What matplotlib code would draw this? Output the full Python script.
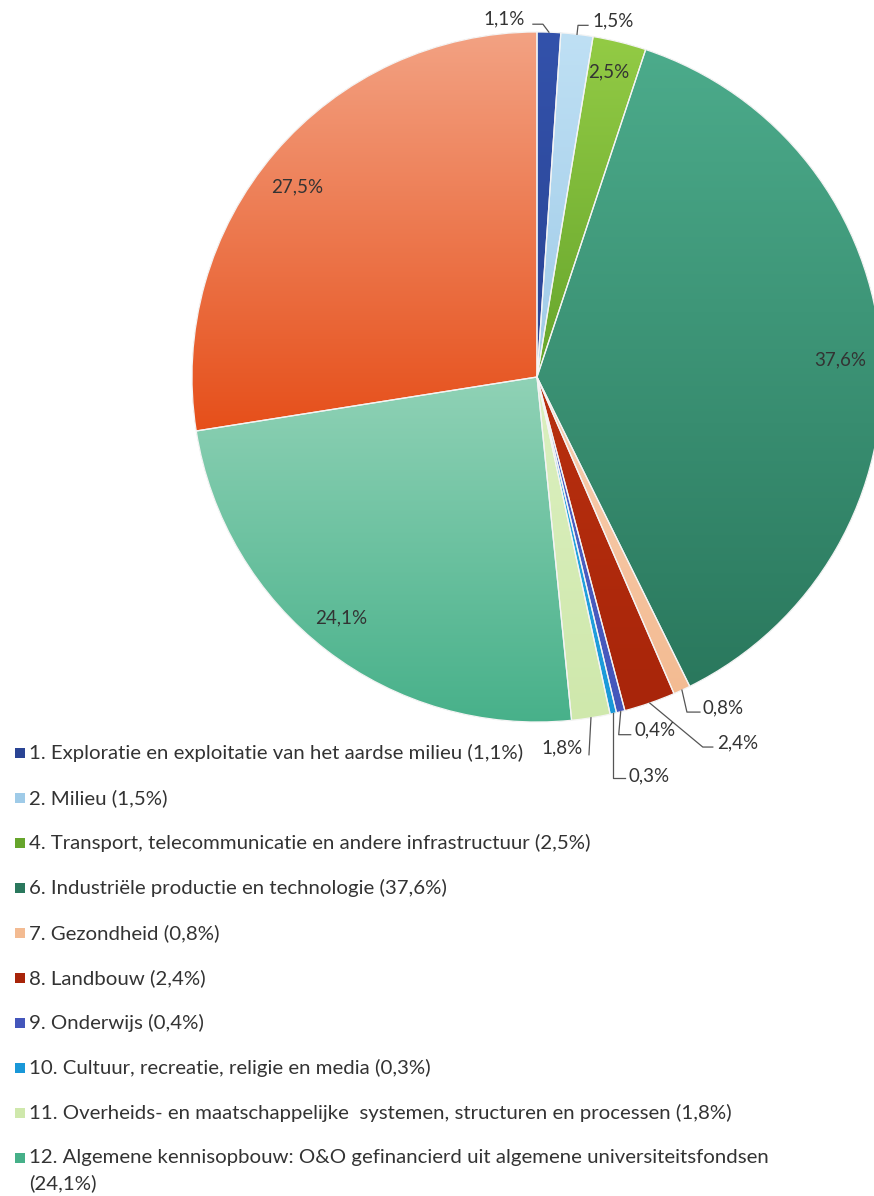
import numpy as np
import matplotlib
matplotlib.use("Agg")
import matplotlib.pyplot as plt
from matplotlib.patches import Wedge, Rectangle
from matplotlib.colors import LinearSegmentedColormap

# ---------------- data ----------------
categories = [
    "1. Exploratie en exploitatie van het aardse milieu",
    "2. Milieu",
    "4. Transport, telecommunicatie en andere infrastructuur",
    "6. Industriële productie en technologie",
    "7. Gezondheid",
    "8. Landbouw",
    "9. Onderwijs",
    "10. Cultuur, recreatie, religie en media",
    "11. Overheids- en maatschappelijke  systemen, structuren en processen",
    "12. Algemene kennisopbouw: O&O gefinancierd uit algemene universiteitsfondsen",
]
shares = [1.1, 1.5, 2.5, 37.6, 0.8, 2.4, 0.4, 0.3, 1.8, 24.1, 27.5]
legend_count = 10  # the last slice (27,5%) has no legend entry

# gradient colours (top, bottom) per slice
colors_top = ["#3352ab", "#bfe0f4", "#93cb45", "#4cab8b", "#f9cfb0", "#b8300f",
              "#5064c8", "#2fb0e6", "#dcf0c0", "#90d2b6", "#f3a283"]
colors_bot = ["#2a4494", "#9fcbe8", "#66a52c", "#2a785d", "#f3bb92", "#a8250a",
              "#4456bb", "#1a98d8", "#cfe8ac", "#46b089", "#e64f1a"]

W, H = 874, 1196
fig = plt.figure(figsize=(W / 100, H / 100), dpi=100)
ax = fig.add_axes([0, 0, 1, 1])

cx, cy, R = 537, H - 377, 345

wedges, _ = ax.pie(shares, startangle=90, counterclock=False, center=(cx, cy),
                   radius=R, colors=colors_bot, frame=True,
                   wedgeprops=dict(linewidth=0))

# vertical gradient inside each slice
for w, ct, cb in zip(wedges, colors_top, colors_bot):
    verts = w.get_path().vertices
    x0, y0 = verts.min(axis=0)
    x1, y1 = verts.max(axis=0)
    cmap = LinearSegmentedColormap.from_list("g", [cb, ct])
    grad = np.linspace(0, 1, 256).reshape(-1, 1)
    im = ax.imshow(grad, extent=(x0, x1, y0, y1), origin="lower", cmap=cmap,
                   aspect="auto", zorder=w.get_zorder() + 0.1, interpolation="bilinear")
    im.set_clip_path(w)
# light separators
for w in wedges:
    ax.add_patch(Wedge((cx, cy), R, w.theta1, w.theta2, fill=False,
                       edgecolor="#f4f4f4", linewidth=0.9, zorder=3))

ax.set_xlim(0, W)
ax.set_ylim(0, H)
ax.set_aspect("equal")
ax.axis("off")

FONT = "Lato"
TXT = "#333333"
PCT_SIZE = 13.5
LEG_SIZE = 14.7

def fmt(v):
    return f"{v:.1f}".replace(".", ",") + "%"

def point_on(frac_pos, dist):
    ang = np.deg2rad(90 - frac_pos * 3.6)
    return cx + dist * np.cos(ang), cy + dist * np.sin(ang)

cum = np.cumsum([0] + shares)
mids = (cum[:-1] + cum[1:]) / 2

# inside labels: (radial fraction, angular shift in percent units)
inside = {2: (0.908, -0.15), 3: (0.88, 0.2), 9: (0.899, 0.4), 10: (0.887, -0.6)}
for i, (frac, shift) in inside.items():
    x, y = point_on(mids[i] + shift, frac * R)
    ax.text(x, y, fmt(shares[i]), ha="center", va="center", fontsize=PCT_SIZE,
            family=FONT, color=TXT, zorder=5)

# outside labels with leader lines (offsets in pixels, y downwards)
leaders = {
    0: ([(-6, -8), (-16, -8)], "right", (-24, -13)),
    1: ([(1, -9), (11, -9)], "left", (15, -13)),
    4: ([(5, 22), (18, 22)], "left", (21, 18)),
    5: ([(53, 44), (63, 44)], "left", (67, 40)),
    6: ([(-2, 23), (10, 23)], "left", (14, 18)),
    7: ([(0, 65), (12, 65)], "left", (15, 62)),
    8: ([(-2, 37)], "right", (-8, 30)),
}
for i, (pts, ha, toff) in leaders.items():
    ax_, ay_ = point_on(mids[i], R)
    xs = [ax_] + [ax_ + p[0] for p in pts]
    ys = [ay_] + [ay_ - p[1] for p in pts]
    ax.plot(xs, ys, color="#555555", linewidth=0.9, zorder=4)
    ax.text(ax_ + toff[0], ay_ - toff[1], fmt(shares[i]), ha=ha, va="center",
            fontsize=PCT_SIZE, family=FONT, color=TXT, zorder=5)

# legend
y_start, pitch = H - 753, 45.0
for i in range(legend_count):
    y = y_start - i * pitch
    ax.add_patch(Rectangle((15, y - 5), 10, 10, facecolor=colors_bot[i],
                           edgecolor="none", zorder=5))
    if i == legend_count - 1:
        ax.text(29, y, categories[i], ha="left", va="center", fontsize=LEG_SIZE,
                family=FONT, color=TXT, zorder=5)
        ax.text(29, y - 25, f"({fmt(shares[i])})", ha="left", va="center",
                fontsize=LEG_SIZE, family=FONT, color=TXT, zorder=5)
    else:
        ax.text(29, y, f"{categories[i]} ({fmt(shares[i])})", ha="left",
                va="center", fontsize=LEG_SIZE, family=FONT, color=TXT, zorder=5)

fig.savefig("out.png", dpi=100, facecolor="white")
